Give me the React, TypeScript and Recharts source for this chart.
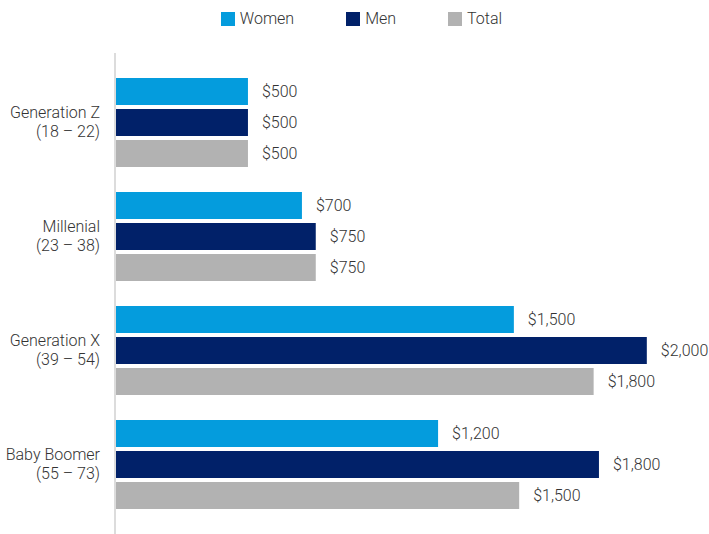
import React from 'react';
import { BarChart, Bar, XAxis, YAxis, Legend, LabelList } from 'recharts';

// generations shown on the category axis (two lines each)
const generations = ['Generation Z', 'Millenial', 'Generation X', 'Baby Boomer'];
const ageRanges = ['(18 – 22)', '(23 – 38)', '(39 – 54)', '(55 – 73)'];

// bar lengths
const women = [500, 703, 1500, 1215];
const men = [500, 755, 2000, 1820];
const total = [500, 755, 1800, 1520];

// printed value labels
const womenLabels = ['$500', '$700', '$1,500', '$1,200'];
const menLabels = ['$500', '$750', '$2,000', '$1,800'];
const totalLabels = ['$500', '$750', '$1,800', '$1,500'];

const seriesOrder = ['Women', 'Men', 'Total'];

const FONT = 'Roboto, "DejaVu Sans Condensed", sans-serif';
const TEXT = '#333333';

const data = generations.map((g, i) => ({
  name: g,
  ages: ageRanges[i],
  women: women[i],
  men: men[i],
  total: total[i],
  womenLabel: womenLabels[i],
  menLabel: menLabels[i],
  totalLabel: totalLabels[i],
}));

function GenTick(props: any) {
  const { x, y, payload, index } = props;
  return (
    <text x={x} y={y} textAnchor="end" fill={TEXT} fontSize={16} fontWeight={300} fontFamily={FONT}>
      <tspan x={x} dy={-4}>{payload.value}</tspan>
      <tspan x={x} dy={19}>{ageRanges[index]}</tspan>
    </text>
  );
}

function LegendBox({ payload }: any) {
  const items = [...(payload || [])].sort((a: any, b: any) => seriesOrder.indexOf(a.value) - seriesOrder.indexOf(b.value));
  return (
    <div style={{ display: 'flex', justifyContent: 'center', paddingLeft: 14, fontFamily: FONT, fontWeight: 300, fontSize: 16, color: TEXT, lineHeight: '19px' }}>
      {items.map((p: any, i: number) => (
        <div key={i} style={{ display: 'flex', alignItems: 'center', marginRight: i < 2 ? 52 : 0 }}>
          <span style={{ width: 14, height: 14, background: p.color, display: 'inline-block', marginRight: 5 }} />
          <span>{p.value}</span>
        </div>
      ))}
    </div>
  );
}

const labelProps = { position: 'right' as const, offset: 14, fill: TEXT, fontSize: 16, fontWeight: 300, fontFamily: FONT };

export default function App() {
  return (
    <div style={{ position: 'absolute', left: 0, top: 0, width: 709, height: 534, background: '#fff' }}>
      <BarChart
        width={709}
        height={534}
        data={data}
        layout="vertical"
        margin={{ top: 34, right: 9, bottom: 0, left: 0 }}
        barSize={27}
        barGap={4}
      >
        <XAxis type="number" hide domain={[0, 2200]} />
        <YAxis
          type="category"
          dataKey="name"
          width={115}
          padding={{ top: 12, bottom: 13 }}
          axisLine={{ stroke: '#dcdcdc', strokeWidth: 2 }}
          tickLine={false}
          tickSize={0}
          tickMargin={15}
          tick={<GenTick />}
        />
        <Legend
          verticalAlign="top"
          align="center"
          content={<LegendBox />}
          wrapperStyle={{ top: 9, left: 0, width: 709 }}
        />
        <Bar dataKey="women" name="Women" fill="#049cdd" isAnimationActive={false}>
          <LabelList dataKey="womenLabel" {...labelProps} />
        </Bar>
        <Bar dataKey="men" name="Men" fill="#012169" isAnimationActive={false}>
          <LabelList dataKey="menLabel" {...labelProps} />
        </Bar>
        <Bar dataKey="total" name="Total" fill="#b2b2b2" isAnimationActive={false}>
          <LabelList dataKey="totalLabel" {...labelProps} />
        </Bar>
      </BarChart>
    </div>
  );
}
